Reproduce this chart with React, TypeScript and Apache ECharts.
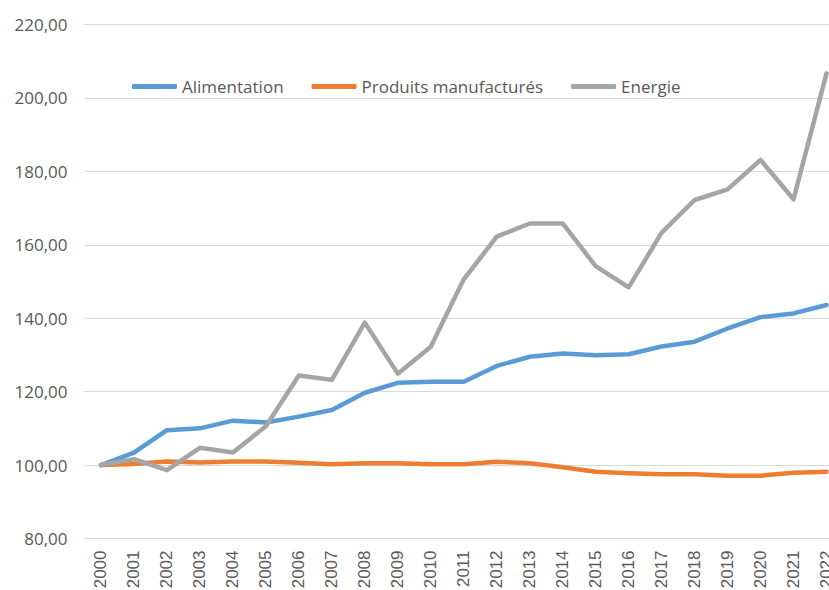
import React, { useEffect, useRef } from "react";
import * as echarts from "echarts";

const years = ["2000","2001","2002","2003","2004","2005","2006","2007","2008","2009","2010","2011","2012","2013","2014","2015","2016","2017","2018","2019","2020","2021","2022"];
const alimentation = [100, 103.4, 109.5, 110.0, 112.1, 111.6, 113.2, 115.0, 119.7, 122.4, 122.7, 122.7, 127.0, 129.5, 130.4, 129.9, 130.2, 132.3, 133.6, 137.2, 140.3, 141.3, 143.6];
const produits = [100, 100.3, 101.0, 100.7, 101.0, 101.0, 100.6, 100.2, 100.5, 100.5, 100.2, 100.2, 100.9, 100.5, 99.4, 98.2, 97.8, 97.5, 97.5, 97.1, 97.1, 97.9, 98.2];
const energie = [100, 101.6, 98.6, 104.7, 103.4, 110.6, 124.4, 123.2, 138.8, 124.9, 132.2, 150.6, 162.2, 165.8, 165.8, 154.2, 148.4, 163.3, 172.2, 175.1, 183.1, 172.4, 206.7];
const seriesNames = ["Alimentation", "Produits manufacturés", "Energie"];
const colors = ["#5B9BD5", "#ED7D31", "#A5A5A5"];

export default function App() {
  const ref = useRef<HTMLDivElement>(null);
  useEffect(() => {
    document.body.style.margin = "0";
    const chart = echarts.init(ref.current!, null, { renderer: "svg" });
    const data = [alimentation, produits, energie];
    chart.setOption({
      animation: false,
      backgroundColor: "#ffffff",
      grid: { left: 84.5, right: 0, top: 24.5, bottom: 51.5, containLabel: false, outerBoundsMode: "none" },
      legend: {
        left: 127,
        top: 73,
        itemWidth: 45,
        itemHeight: 5,
        itemGap: 28,
        icon: "roundRect",
        textStyle: { color: "#595959", fontSize: 17, fontFamily: "Open Sans" },
        data: seriesNames,
      },
      xAxis: {
        type: "category",
        data: years,
        boundaryGap: true,
        axisLine: { show: true, lineStyle: { color: "#D9D9D9", width: 1 } },
        axisTick: { show: false },
        axisLabel: {
          rotate: 90,
          margin: 12,
          interval: 0,
          color: "#595959",
          fontSize: 17,
          fontFamily: "Liberation Sans",
        },
      },
      yAxis: {
        type: "value",
        min: 80,
        max: 220,
        interval: 20,
        axisLine: { show: false },
        axisTick: { show: false },
        splitLine: { lineStyle: { color: "#D9D9D9", width: 1 } },
        axisLabel: {
          margin: 17,
          color: "#595959",
          fontSize: 17,
          fontFamily: "Open Sans",
          formatter: (v: number) => v.toFixed(2).replace(".", ","),
        },
      },
      series: seriesNames.map((name, i) => ({
        name,
        type: "line",
        data: data[i],
        showSymbol: false,
        symbol: "none",
        color: colors[i],
        lineStyle: { width: 4.5, color: colors[i], cap: "round", join: "round" },
        itemStyle: { color: colors[i] },
        z: i === 1 ? 2 : i === 0 ? 3 : 4,
      })),
    });
    return () => chart.dispose();
  }, []);
  return (
    <div style={{ width: 829, height: 590, overflow: "hidden", position: "relative" }}>
      <div ref={ref} style={{ width: 843, height: 590 }} />
    </div>
  );
}
